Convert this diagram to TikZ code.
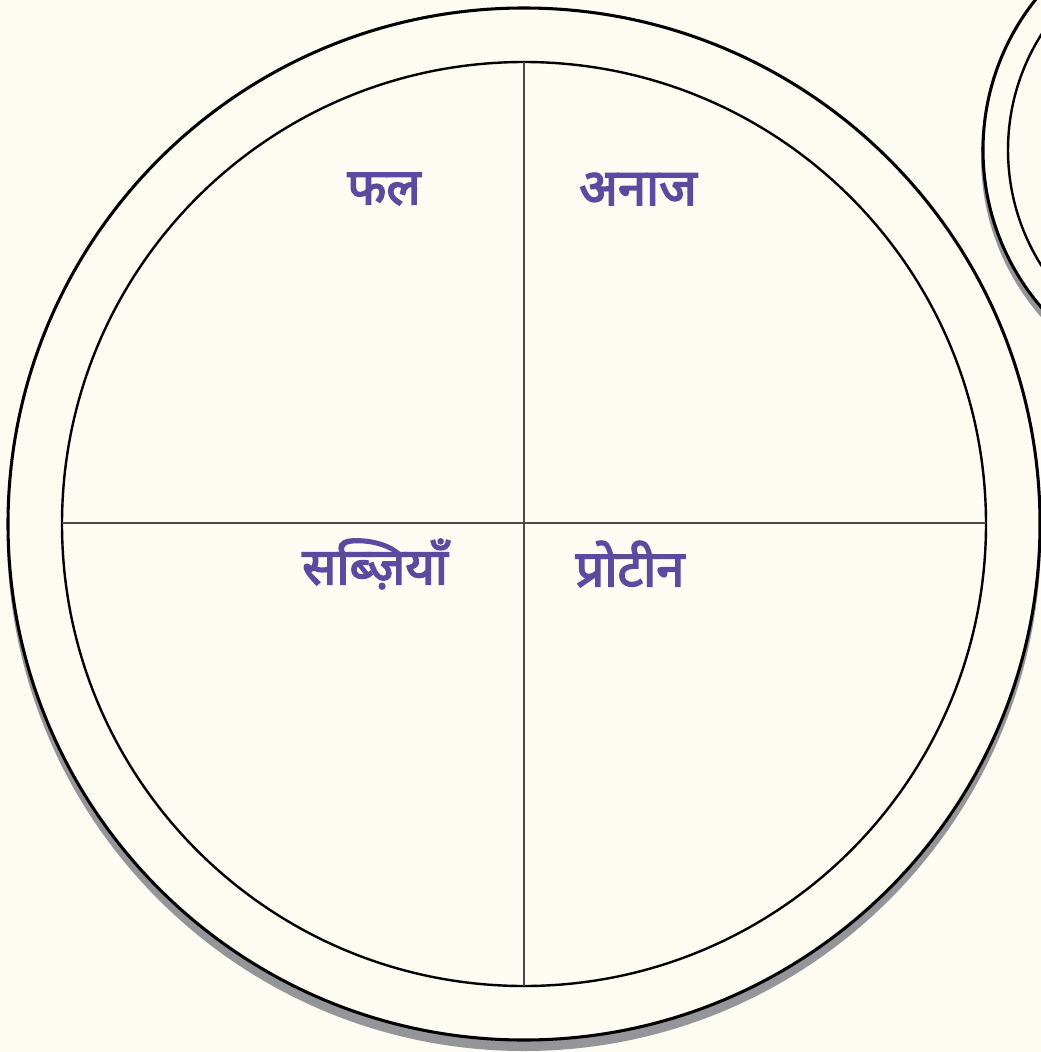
\documentclass[tikz,border=0pt]{standalone}
\usepackage{fontspec}
\newfontfamily\devfont[Script=Devanagari, FakeBold=3]{Noto Sans}
\usepackage{xcolor}
\definecolor{paper}{HTML}{FDFBF2}
\definecolor{shade}{HTML}{939598}
\definecolor{groupviolet}{HTML}{5B4A9E}
\definecolor{divider}{HTML}{4A4A4A}

\begin{document}
\begin{tikzpicture}[
      x=0.75pt, y=-0.75pt,
      rim/.style={draw=black, line width=2.3pt, fill=paper},
      dish/.style={draw=black, line width=1.8pt},
      shadow/.style={fill=shade, draw=none},
      split/.style={draw=divider, line width=1pt},
      foodgroup/.style={text=groupviolet, font=\devfont\fontsize{38}{41}\selectfont, inner sep=0pt}
    ]
    \fill[paper] (0,0) rectangle (1041,1052);
    \useasboundingbox (0,0) rectangle (1041,1052);

    % side plate
    \fill[shadow] (1224.5,157) circle (243.5);
    \path[rim] (1224.5,150) circle (241.5);
    \path[dish] (1224.5,150) circle (216.5);

    % main plate
    \fill[shadow] (524,534) circle (517);
    \path[rim] (524,524) circle (516);
    \path[dish] (524,524) circle (462);

    \coordinate (top) at (524,62);
    \coordinate (bottom) at (524,986);
    \coordinate (left) at (62,523);
    \coordinate (right) at (986,523);
    \draw[split] (top) -- (bottom);
    \draw[split] (left) -- (right);

    \node[foodgroup] (fruit) at (384,189) {फल};
    \node[foodgroup] (grain) at (638,189) {अनाज};
    \node[foodgroup] (veg) at (375,564) {सब्ज़ियाँ};
    \node[foodgroup] (protein) at (630,564) {प्रोटीन};
\end{tikzpicture}
\end{document}
